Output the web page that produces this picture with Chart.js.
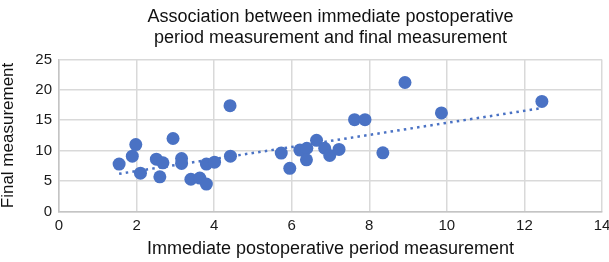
<!DOCTYPE html>
<html>
<head>
<meta charset="utf-8">
<script src="https://cdn.jsdelivr.net/npm/chart.js@4/dist/chart.umd.min.js"></script>
<style>
html,body{margin:0;padding:0;background:#fff;}
#wrap{width:609px;height:262px;position:relative;}
</style>
</head>
<body>
<div id="wrap"><canvas id="c" width="609" height="262"></canvas></div>
<script>
const titleLines = ['Association between immediate postoperative', 'period measurement and final measurement'];
const xAxisTitle = 'Immediate postoperative period measurement';
const yAxisTitle = 'Final measurement';
const immediateValues = [1.55, 1.89, 1.98, 2.10, 2.51, 2.60, 2.68, 2.94, 3.16, 3.16, 3.40, 3.63, 3.80, 3.80, 4.01, 4.41, 4.42,
  5.73, 5.95, 6.21, 6.39, 6.38, 6.64, 6.85, 6.98, 7.22, 7.62, 7.89, 8.35, 8.92, 9.86, 12.45];
const finalValues = [7.8, 9.1, 11.0, 6.3, 8.6, 5.7, 8.0, 12.0, 8.7, 7.9, 5.3, 5.5, 4.5, 7.8, 8.1, 17.4, 9.1,
  9.6, 7.1, 10.1, 10.4, 8.5, 11.7, 10.4, 9.2, 10.2, 15.1, 15.1, 9.65, 21.2, 16.2, 18.1];
const trendX = [1.55, 12.45];
const trendY = [6.2, 17.0];
const xTicks = [0, 2, 4, 6, 8, 10, 12, 14];
const yTicks = [0, 5, 10, 15, 20, 25];

const points = immediateValues.map((x, i) => ({x: x, y: finalValues[i]}));
const trend = trendX.map((x, i) => ({x: x, y: trendY[i]}));

const blue = '#4a72c4';
const font = 'Liberation Sans, Arial, Helvetica, sans-serif';

new Chart(document.getElementById('c'), {
  type: 'scatter',
  data: {
    datasets: [
      {
        data: trend, type: 'line', showLine: true, borderColor: blue, borderWidth: 2.5,
        borderDash: [2.5, 4.2], borderCapStyle: 'butt', pointRadius: 0, fill: false, order: 2
      },
      {
        data: points, backgroundColor: blue, borderColor: blue, pointRadius: 6.5, pointHoverRadius: 6.5, borderWidth: 0, order: 1
      }
    ]
  },
  options: {
    responsive: false,
    animation: false,
    devicePixelRatio: 1,
    layout: {padding: {left: 0, right: 7, top: 0, bottom: 0}},
    plugins: {
      legend: {display: false},
      tooltip: {enabled: false},
      title: {
        display: true, text: titleLines, color: '#111', fullSize: false,
        font: {family: font, size: 18, weight: 'normal', lineHeight: 1.15},
        padding: {top: 7, bottom: 11}
      }
    },
    scales: {
      x: {
        type: 'linear', min: 0, max: 14,
        afterBuildTicks: s => { s.ticks = xTicks.map(v => ({value: v})); },
        afterFit: s => { s.height = 50.5; s.paddingRight = 0; s.paddingLeft = 0; },
        grid: {color: '#d9d9d9', lineWidth: 1.5, drawTicks: false},
        border: {color: '#c4c4c4', width: 1.5},
        ticks: {color: '#1a1a1a', font: {family: font, size: 15}, padding: 5},
        title: {display: true, text: xAxisTitle, color: '#111', font: {family: font, size: 18}, padding: {top: 0, bottom: 2.5}}
      },
      y: {
        type: 'linear', min: 0, max: 25,
        afterBuildTicks: s => { s.ticks = yTicks.map(v => ({value: v})); },
        afterFit: s => { s.width = 59; },
        grid: {color: '#d9d9d9', lineWidth: 1.5, drawTicks: false},
        border: {color: '#c4c4c4', width: 1.5},
        ticks: {color: '#1a1a1a', font: {family: font, size: 15}, padding: 7},
        title: {display: true, text: yAxisTitle, color: '#111', font: {family: font, size: 17, lineHeight: 1.0}, padding: {top: 0, bottom: 0}}
      }
    }
  }
});
</script>
</body>
</html>
